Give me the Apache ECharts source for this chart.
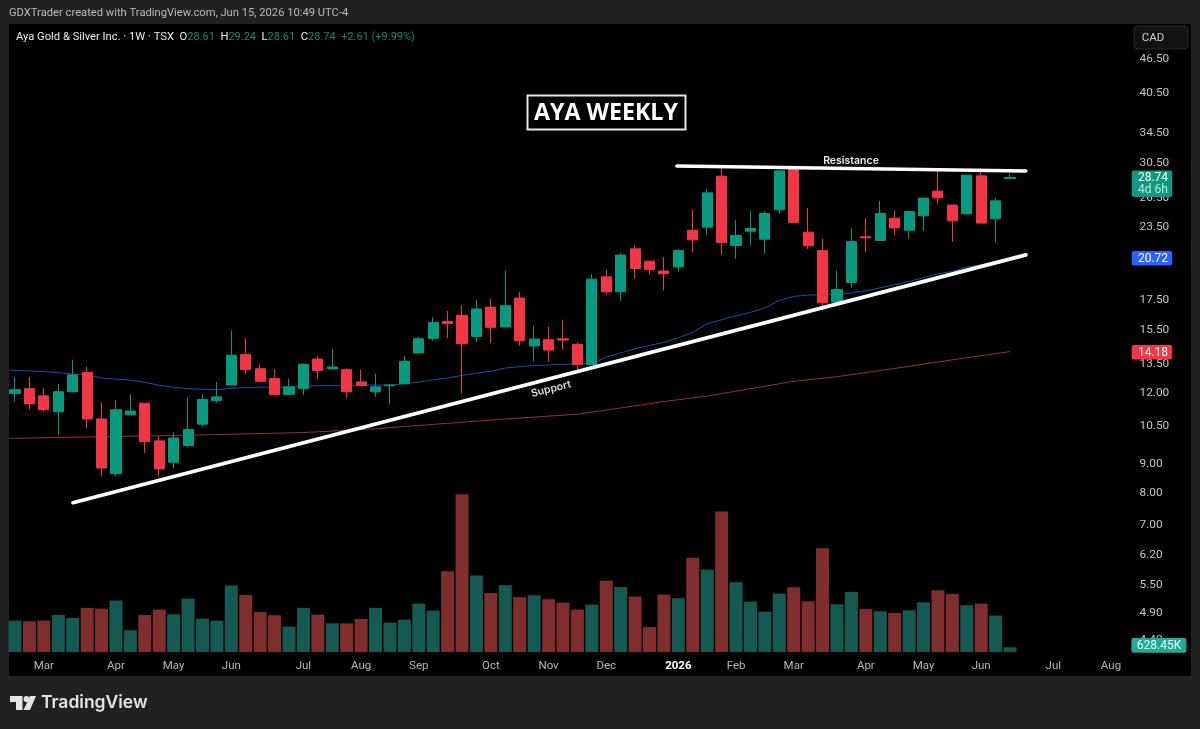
<!DOCTYPE html>
<html><head><meta charset="utf-8">
<style>html,body{margin:0;padding:0;background:#212121}#c{width:1200px;height:729px}</style>
<script src="https://cdn.jsdelivr.net/npm/echarts@6/dist/echarts.min.js"></script>
</head><body><div id="c"></div>
<script>
const weeks=['2025-02-17','2025-02-24','2025-03-03','2025-03-10','2025-03-17','2025-03-24','2025-03-31','2025-04-07','2025-04-14','2025-04-21','2025-04-28','2025-05-05','2025-05-12','2025-05-19','2025-05-26','2025-06-02','2025-06-09','2025-06-16','2025-06-23','2025-06-30','2025-07-07','2025-07-14','2025-07-21','2025-07-28','2025-08-04','2025-08-11','2025-08-18','2025-08-25','2025-09-01','2025-09-08','2025-09-15','2025-09-22','2025-09-29','2025-10-06','2025-10-13','2025-10-20','2025-10-27','2025-11-03','2025-11-10','2025-11-17','2025-11-24','2025-12-01','2025-12-08','2025-12-15','2025-12-22','2025-12-29','2026-01-05','2026-01-12','2026-01-19','2026-01-26','2026-02-02','2026-02-09','2026-02-16','2026-02-23','2026-03-02','2026-03-09','2026-03-16','2026-03-23','2026-03-30','2026-04-06','2026-04-13','2026-04-20','2026-04-27','2026-05-04','2026-05-11','2026-05-18','2026-05-25','2026-06-01','2026-06-08','2026-06-15','2026-06-22','2026-06-29','2026-07-06','2026-07-13','2026-07-20','2026-07-27','2026-08-03','2026-08-10'];
const monthTicks={'2025-03-03':'Mar','2025-04-07':'Apr','2025-05-05':'May','2025-06-02':'Jun','2025-07-07':'Jul','2025-08-04':'Aug','2025-09-01':'Sep','2025-10-06':'Oct','2025-11-03':'Nov','2025-12-01':'Dec','2026-01-05':'2026','2026-02-02':'Feb','2026-03-02':'Mar','2026-04-06':'Apr','2026-05-04':'May','2026-06-01':'Jun','2026-07-06':'Jul','2026-08-03':'Aug'};
const priceTicks=[46.5,40.5,34.5,30.5,26.5,23.5,20.5,17.5,15.5,13.5,12,10.5,9,8,7,6.2,5.5,4.9,4.4];

const opens=[11.97,12.20,11.85,11.11,12.05,13.04,10.79,8.64,10.97,11.50,9.87,9.05,9.69,10.56,11.62,12.38,14.02,13.23,12.72,11.92,12.20,13.76,13.22,13.18,12.54,12.05,12.35,12.45,14.10,14.96,16.03,16.43,15.08,16.99,15.67,17.62,14.51,14.88,14.94,14.60,13.45,19.21,18.08,21.52,20.47,19.66,20.00,23.21,23.50,28.90,21.81,23.12,22.38,25.21,29.97,23.03,21.37,17.34,18.77,22.60,22.26,24.37,23.21,24.61,27.20,25.70,24.81,28.94,24.31,28.61];
const highs=[12.79,12.79,12.24,12.44,13.72,13.32,11.54,11.64,11.92,11.50,10.06,10.22,11.75,11.92,12.55,15.46,14.98,13.49,13.18,12.70,13.50,13.95,14.35,13.25,13.18,12.97,12.44,13.95,15.05,16.29,16.72,17.09,17.50,17.55,19.68,18.05,15.74,15.67,16.14,14.72,19.42,19.76,21.15,21.81,20.47,20.81,21.49,25.21,27.42,30.17,24.21,25.08,25.04,29.53,29.97,25.39,22.41,19.71,23.40,24.37,26.15,25.18,25.14,26.44,29.85,25.73,29.02,29.85,26.44,29.24];
const lows=[11.59,11.20,11.11,10.13,12.05,10.39,8.54,8.55,10.97,9.40,8.53,8.83,9.62,10.47,11.52,12.38,12.98,12.57,11.86,11.92,11.90,12.69,13.22,11.73,12.31,11.81,11.43,12.40,14.06,14.82,14.96,11.96,14.76,14.68,15.67,14.53,13.63,13.63,14.29,13.18,13.45,17.88,17.41,19.08,19.37,18.15,19.60,21.20,22.81,21.03,20.66,21.85,21.11,24.78,23.95,21.52,16.76,17.34,18.39,21.23,22.20,22.72,22.41,23.15,25.80,22.14,24.81,23.89,22.12,28.61];
const closes=[12.15,11.47,11.20,12.05,12.90,10.79,8.84,11.20,11.14,9.84,8.81,9.99,10.34,11.68,11.80,13.97,13.18,12.57,11.92,12.29,13.47,13.13,13.32,12.05,12.36,12.29,12.38,13.63,14.94,15.97,15.88,14.64,16.86,15.65,17.09,14.82,14.92,14.27,14.86,13.45,19.03,18.08,20.98,19.87,19.78,19.45,21.37,22.32,27.01,22.08,22.72,23.37,24.84,29.53,23.95,21.79,17.29,18.24,22.17,22.50,24.84,23.43,25.04,26.44,26.47,24.11,29.02,23.89,26.15,28.74];
const volumeK=[4199,4109,4199,4958,4556,5896,5807,6879,2903,4958,5673,5048,7147,4467,4199,8889,7638,5360,4914,3395,5896,5003,3841,3841,4422,5896,3931,4333,6477,5539,10810,21084,10229,7906,8934,7326,7594,7058,6611,5673,6343,9514,8710,7415,3350,7683,7192,12597,11033,18806,9336,6745,5405,7817,8666,6790,13892,6388,8040,5762,5450,5226,5584,6656,8264,7773,6254,6477,4869,628.45];

const ma50Pos=[-0.4,0,1,2,3,4,5,6,7,8,9,10,11,12,13,14,15,16,17,18,19,20,21,22,23,24,25,26,27,28,29,30,31,32,33,34,35,36,37,38,39,40,41,42,43,44,45,46,47,48,49,50,51,52,53,54,55,56,57,58,59,60,61,62,63,64,65,66,67,68,69];
const ma50=[13.16,13.14,13.11,13.07,13.02,12.94,12.91,12.74,12.68,12.63,12.52,12.37,12.27,12.20,12.17,12.15,12.22,12.25,12.28,12.27,12.28,12.30,12.35,12.35,12.37,12.38,12.38,12.38,12.45,12.53,12.65,12.74,12.88,13.00,13.09,13.27,13.34,13.40,13.43,13.47,13.49,13.49,13.87,14.10,14.35,14.54,14.72,14.99,15.33,15.88,16.14,16.39,16.63,16.93,17.45,17.74,17.84,17.86,17.88,17.98,18.15,18.37,18.60,18.85,19.14,19.45,19.63,19.98,20.17,20.46,20.72];
const ma200Pos=[-0.4,5,10,15,20,25,30,33,36,39,42,45,48,51,54,57,60,63,66,69];
const ma200=[9.97,10.03,10.08,10.14,10.21,10.37,10.60,10.74,10.87,11.00,11.28,11.58,11.84,12.20,12.57,12.81,13.13,13.48,13.83,14.18];
const supportPos=[4.02,70.1], supportVal=[7.68,21.0];
const resistancePos=[45.9,70.1], resistanceVal=[30.13,29.53];

const UP='#089981', DOWN='#f23645', UPVOL='#145a52', DOWNVOL='#7f2d2d';
const FONT='Roboto,"Liberation Sans",Arial,sans-serif';
const zip=(a,b)=>a.map((v,i)=>[v,b[i]]);
const chart=echarts.init(document.getElementById('c'),null,{renderer:'canvas'});
const txt=(x,y,text,style)=>({type:'text',x,y,z:50,silent:true,style:Object.assign({text,font:'12px '+FONT,fill:'#fff',textAlign:'left',textVerticalAlign:'middle'},style)});
const tag=(x,y,w,h,color)=>({type:'rect',z:40,silent:true,shape:{x,y,width:w,height:h,r:2},style:{fill:color}});
const centerTxt=(x,y,text,fill,size)=>txt(x,y,text,{fill,textAlign:'center',font:(size||12)+'px '+FONT});

chart.setOption({
  animation:false,
  backgroundColor:'#212121',
  grid:{left:7.8,width:1124.8,top:24,height:628,containLabel:false},
  xAxis:[
    {type:'category',data:weeks,boundaryGap:true,axisLine:{show:false},axisTick:{show:false},splitLine:{show:false},
     axisLabel:{interval:(i,v)=>v in monthTicks,hideOverlap:false,margin:8,color:'#b5b7bd',fontFamily:FONT,fontSize:11.5,
       formatter:v=>{const t=monthTicks[v]||'';return t==='2026'?'{y|2026}':t;},
       rich:{y:{color:'#ffffff',fontWeight:'bold',fontFamily:FONT,fontSize:11.5}}}},
    {type:'value',min:-0.5,max:77.5,show:false}
  ],
  yAxis:[
    {type:'log',logBase:10,min:4.19,max:53.6,position:'right',axisLine:{show:false},axisTick:{show:false},splitLine:{show:false},minorTick:{show:false},
     axisLabel:{customValues:priceTicks,margin:7,align:'left',padding:[2,0,0,0],color:'#c4c6cb',fontFamily:FONT,fontSize:11.8,
       formatter:v=>{const n=typeof v==='object'?v.value:v;return (n<2?Math.pow(10,n):n).toFixed(2);}}},
    {type:'value',min:0,max:84000,show:false}
  ],
  series:[
    {name:'Volume',type:'bar',xAxisIndex:0,yAxisIndex:1,barWidth:13,z:1,silent:true,
     data:volumeK.map((v,i)=>({value:v,itemStyle:{color:closes[i]>=opens[i]?UPVOL:DOWNVOL}}))},
    {name:'MA200',type:'line',xAxisIndex:1,yAxisIndex:0,data:zip(ma200Pos,ma200),symbol:'none',z:2,silent:true,lineStyle:{color:'#96303a',width:1}},
    {name:'MA50',type:'line',xAxisIndex:1,yAxisIndex:0,data:zip(ma50Pos,ma50),symbol:'none',z:3,silent:true,lineStyle:{color:'#1f4db0',width:1}},
    {name:'AYA',type:'candlestick',xAxisIndex:0,yAxisIndex:0,z:4,silent:true,barWidth:10.6,
     data:opens.map((o,i)=>[o,closes[i],lows[i],highs[i]]),
     itemStyle:{color:UP,color0:DOWN,borderColor:UP,borderColor0:DOWN,borderWidth:1}},
    {name:'Support',type:'line',xAxisIndex:1,yAxisIndex:0,data:zip(supportPos,supportVal),symbol:'none',z:6,silent:true,lineStyle:{color:'#fff',width:3.7,cap:'round'}},
    {name:'Resistance',type:'line',xAxisIndex:1,yAxisIndex:0,data:zip(resistancePos,resistanceVal),symbol:'none',z:6,silent:true,lineStyle:{color:'#fff',width:3.5,cap:'round'}}
  ],
  graphic:{elements:[
    {type:'rect',z:-10,silent:true,shape:{x:9,y:24,width:1182,height:652},style:{fill:'#000'}},
    txt(9,13,'GDXTrader created with TradingView.com, Jun 15, 2026 10:49 UTC-4',{fill:'#b9b9b9',font:'11.2px '+FONT}),
    {type:'text',x:16,y:37,z:50,silent:true,style:{
      text:'{w|Aya Gold & Silver Inc. · 1W · TSX  O}{g|28.61}{w|  H}{g|29.24}{w|  L}{g|28.61}{w|  C}{g|28.74}{g|  +2.61 (+9.99%)}',
      textVerticalAlign:'middle',rich:{w:{fill:'#ececec',font:'11.2px '+FONT},g:{fill:'#14896f',font:'11px '+FONT}}}},
    {type:'rect',z:30,silent:true,shape:{x:527.5,y:95.5,width:158,height:34},style:{fill:'#000',stroke:'#e8e8e8',lineWidth:2}},
    txt(606,113,'AYA WEEKLY',{textAlign:'center',font:'700 23.2px "Open Sans",sans-serif'}),
    txt(851,160.5,'Resistance',{textAlign:'center',font:'600 10.5px Inter,sans-serif',fill:'#eee'}),
    {type:'text',x:551,y:389,rotation:0.24,z:50,silent:true,style:{text:'Support',textAlign:'center',textVerticalAlign:'middle',font:'600 10.5px Inter,sans-serif',fill:'#ddd'}},
    {type:'rect',z:30,silent:true,shape:{x:1134,y:26,width:54,height:23,r:4},style:{fill:'#111',stroke:'#2b2b2b',lineWidth:1}},
    centerTxt(1153,38,'CAD','#d0d0d0',11.5),
    tag(1131.7,170.5,40.5,26.5,'#0e9a82'),
    centerTxt(1153,178,'28.74','#fff'),centerTxt(1153,190,'4d 6h','#bfe6dc'),
    tag(1131.7,251,40.5,14.5,'#2962ff'),centerTxt(1153,258.5,'20.72','#fff'),
    tag(1131.7,345,40.5,14.5,DOWN),centerTxt(1153,352.5,'14.18','#fff'),
    tag(1131.4,638,55,14.8,'#22ab94'),centerTxt(1159,645.5,'628.45K','#eafff9'),
    {type:'polygon',z:50,silent:true,shape:{points:[[10,696],[22.5,696],[22.5,710],[16,710],[16,702],[10,702]]},style:{fill:'#e4e4e4'}},
    {type:'circle',z:50,silent:true,shape:{cx:26.5,cy:699,r:3},style:{fill:'#e4e4e4'}},
    {type:'polygon',z:50,silent:true,shape:{points:[[30,696],[36,696],[30,710],[23.5,710]]},style:{fill:'#e4e4e4'}},
    txt(41,703,'TradingView',{font:'600 17.5px Inter,sans-serif',fill:'#e4e4e4'})
  ]}
});
</script></body></html>
